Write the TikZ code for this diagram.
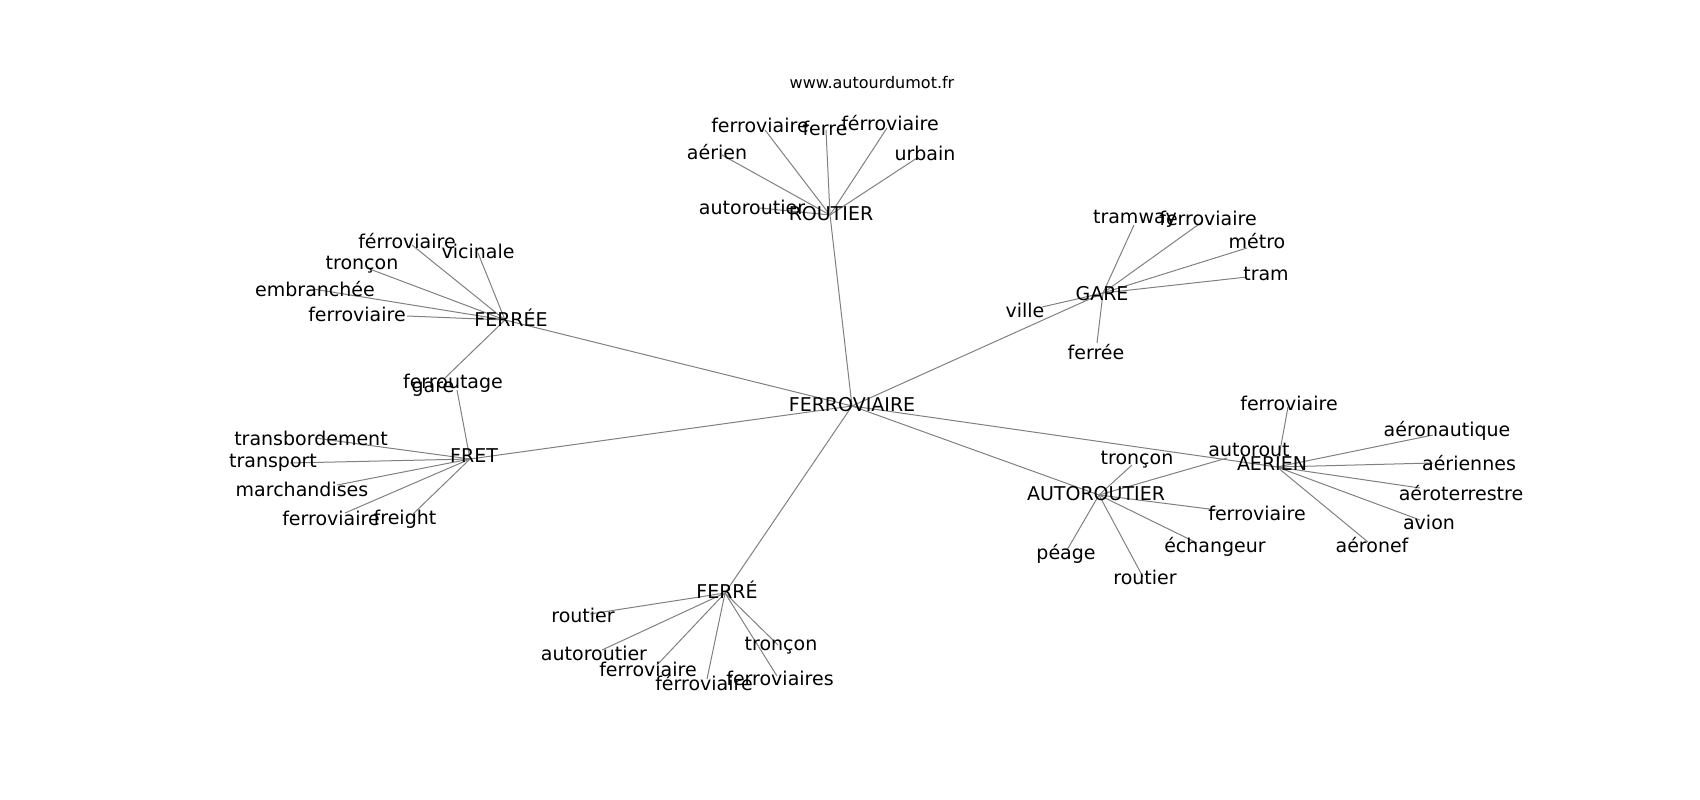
\documentclass[tikz,border=0pt]{standalone}
\usepackage{fontspec}
\setmainfont{DejaVu Sans}
\tikzset{wd/.style={inner sep=0pt,font=\fontsize{19}{22}\selectfont}}
\tikzset{lnk/.style={draw=gray,line width=1pt}}
\tikzset{site/.style={inner sep=0pt,font=\fontsize{16}{19}\selectfont}}

\begin{document}
\begin{tikzpicture}[x=1pt,y=-1pt]
\useasboundingbox (0,0) rectangle (1700,800);

\coordinate (hub) at (852,406);
\coordinate (rt) at (830,215);
\coordinate (fee) at (505,320);
\coordinate (frt) at (470,459);
\coordinate (gr) at (1103,293);
\coordinate (aut) at (1099,495);
\coordinate (aer) at (1277,467);
\coordinate (fer) at (725,593);

\coordinate (r1) at (722,155);
\coordinate (r2) at (765,130);
\coordinate (r3) at (826,130);
\coordinate (r4) at (887,128);
\coordinate (r5) at (917,158);
\coordinate (r6) at (760,208);

\coordinate (e1) at (412,245);
\coordinate (e2) at (478,253);
\coordinate (e3) at (367,268);
\coordinate (e4) at (313,289);
\coordinate (e5) at (407,316);
\coordinate (e6) at (445,378);

\coordinate (f1) at (315,438);
\coordinate (f2) at (290,463);
\coordinate (f3) at (337,485);
\coordinate (f4) at (345,513);
\coordinate (f5) at (412,515);
\coordinate (f6) at (457,390);

\coordinate (g1) at (1134,225);
\coordinate (g2) at (1202,222);
\coordinate (g3) at (1247,248);
\coordinate (g4) at (1247,277);
\coordinate (g5) at (1042,307);
\coordinate (g6) at (1097,343);

\coordinate (a1) at (1132,465);
\coordinate (a2) at (1227,458);
\coordinate (a3) at (1217,510);
\coordinate (a4) at (1197,543);
\coordinate (a5) at (1067,550);
\coordinate (a6) at (1143,577);

\coordinate (n1) at (1288,407);
\coordinate (n2) at (1433,435);
\coordinate (n3) at (1433,463);
\coordinate (n4) at (1420,488);
\coordinate (n5) at (1420,520);
\coordinate (n6) at (1368,542);

\coordinate (b1) at (590,614);
\coordinate (b2) at (602,650);
\coordinate (b3) at (657,665);
\coordinate (b4) at (707,679);
\coordinate (b5) at (778,645);
\coordinate (b6) at (777,676);

\foreach \h in {rt,fee,frt,gr,aut,aer,fer}
  \draw[lnk] (hub) -- (\h);
\foreach \i in {1,...,6} {
  \draw[lnk] (rt) -- (r\i);
  \draw[lnk] (fee) -- (e\i);
  \draw[lnk] (frt) -- (f\i);
  \draw[lnk] (gr) -- (g\i);
  \draw[lnk] (aut) -- (a\i);
  \draw[lnk] (aer) -- (n\i);
  \draw[lnk] (fer) -- (b\i);
}

\node[site] (url) at (872,83) {www.autourdumot.fr};

\node[wd] (thub) at (852,405) {FERROVIAIRE};
\node[wd] (trt) at (831,214) {ROUTIER};
\node[wd] (tfee) at (511,318) {FERRÉE};
\node[wd] (tfrt) at (474,456) {FRET};
\node[wd] (tgr) at (1102,294) {GARE};
\node[wd] (taut) at (1096,494) {AUTOROUTIER};
\node[wd] (taer) at (1272,464) {AERIEN};
\node[wd] (tfer) at (727,590) {FERRÉ};

\node[wd] (tr1) at (717,152) {aérien};
\node[wd] (tr2) at (760,125) {ferroviaire};
\node[wd] (tr3) at (825,128) {ferre};
\node[wd] (tr4) at (890,123) {férroviaire};
\node[wd] (tr5) at (925,153) {urbain};
\node[wd] (tr6) at (752,207) {autoroutier};

\node[wd] (te1) at (407,241) {férroviaire};
\node[wd] (te2) at (478,251) {vicinale};
\node[wd] (te3) at (362,265) {tronçon};
\node[wd] (te4) at (315,289) {embranchée};
\node[wd] (te5) at (357,314) {ferroviaire};
\node[wd] (te6) at (433,389) {gare};

\node[wd] (tf1) at (311,438) {transbordement};
\node[wd] (tf2) at (273,463) {transport};
\node[wd] (tf3) at (302,489) {marchandises};
\node[wd] (tf4) at (331,518) {ferroviaire};
\node[wd] (tf5) at (405,519) {freight};
\node[wd] (tf6) at (453,383) {ferroutage};

\node[wd] (tg1) at (1135,219) {tramway};
\node[wd] (tg2) at (1208,218) {ferroviaire};
\node[wd] (tg3) at (1257,241) {métro};
\node[wd] (tg4) at (1266,274) {tram};
\node[wd] (tg5) at (1025,310) {ville};
\node[wd] (tg6) at (1096,352) {ferrée};

\node[wd] (ta1) at (1137,460) {tronçon};
\node[wd] (ta2) at (1249,450) {autorout};
\node[wd] (ta3) at (1257,513) {ferroviaire};
\node[wd] (ta4) at (1215,547) {échangeur};
\node[wd] (ta5) at (1066,554) {péage};
\node[wd] (ta6) at (1145,577) {routier};

\node[wd] (tn1) at (1289,403) {ferroviaire};
\node[wd] (tn2) at (1447,431) {aéronautique};
\node[wd] (tn3) at (1469,463) {aériennes};
\node[wd] (tn4) at (1461,493) {aéroterrestre};
\node[wd] (tn5) at (1429,522) {avion};
\node[wd] (tn6) at (1372,545) {aéronef};

\node[wd] (tb1) at (583,615) {routier};
\node[wd] (tb2) at (594,653) {autoroutier};
\node[wd] (tb3) at (648,669) {ferroviaire};
\node[wd] (tb4) at (704,683) {férroviaire};
\node[wd] (tb5) at (781,646) {tronçon};
\node[wd] (tb6) at (780,678) {ferroviaires};
\end{tikzpicture}
\end{document}
